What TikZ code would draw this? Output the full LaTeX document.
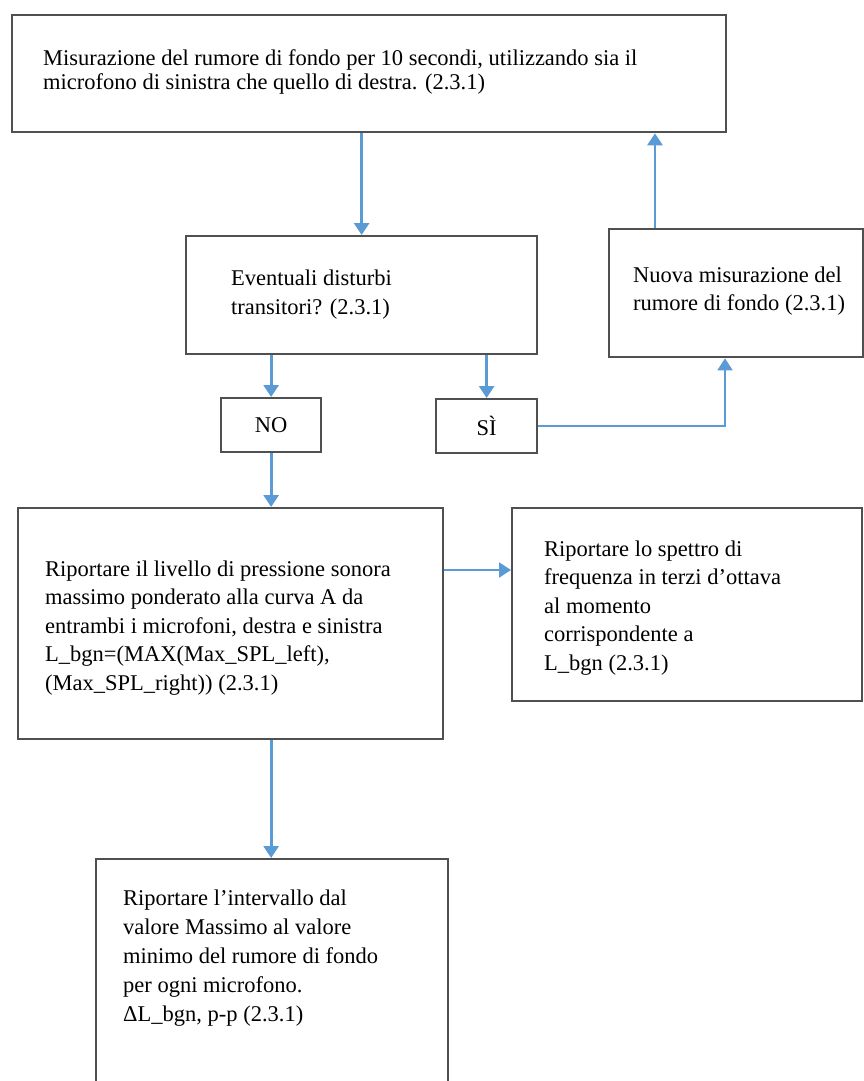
\documentclass[tikz,border=0pt]{standalone}
\usepackage{fontspec}
\setmainfont{Liberation Serif}
\usetikzlibrary{arrows.meta}
\definecolor{arrowblue}{HTML}{5B9BD5}
\definecolor{boxgray}{HTML}{505050}
\tikzset{
  box/.style={draw=boxgray, line width=2.3pt, fill=white, rectangle, inner sep=0pt, anchor=north west},
  txt/.style={inner sep=0pt, anchor=west, align=left, font=\fontsize{22.5}{28.5}\selectfont, text=black},
  flow/.style={draw=arrowblue, line width=2.8pt, -{Triangle[width=15pt,length=12pt]}},
  thinflow/.style={draw=arrowblue, line width=1.8pt, -{Triangle[width=15pt,length=12pt]}}
}
\begin{document}
\begin{tikzpicture}[x=1pt,y=-1pt]
\useasboundingbox (0,0) rectangle (864,1081);
\clip (0,0) rectangle (864,1081);
\fill[white] (0,0) rectangle (864,1081);
% boxes
\node[box, minimum width=714pt, minimum height=117pt] (top) at (11,14) {};
\node[box, minimum width=351pt, minimum height=118pt] (dec) at (185,235) {};
\node[box, minimum width=254pt, minimum height=128pt] (nuova) at (608,228) {};
\node[box, minimum width=100pt, minimum height=54pt] (no) at (220,397) {};
\node[box, minimum width=101pt, minimum height=54pt] (si) at (435,398) {};
\node[box, minimum width=425pt, minimum height=231pt] (big) at (17,507) {};
\node[box, minimum width=350pt, minimum height=193pt] (spec) at (511,507) {};
\node[box, minimum width=352pt, minimum height=260pt] (bot) at (95,858) {};
% texts
\node[txt, font=\fontsize{22.5}{23.5}\selectfont] (toptext) at (43,72) {Misurazione del rumore di fondo per 10 secondi, utilizzando sia il\\microfono di sinistra che quello di destra. (2.3.1)};
\node[txt] (dectext) at (231,294.5) {Eventuali disturbi\\transitori? (2.3.1)};
\node[txt] (nuovatext) at (633,291) {Nuova misurazione del\\rumore di fondo (2.3.1)};
\node[txt, font=\fontsize{22.5}{24}\selectfont, anchor=center] (notext) at (no.center) {NO};
\node[txt, font=\fontsize{22.5}{24}\selectfont, anchor=center] (sitext) at (si.center) {SÌ};
\node[txt] (bigtext) at (45,628) {Riportare il livello di pressione sonora\\massimo ponderato alla curva A da\\entrambi i microfoni, destra e sinistra\\L\_bgn=(MAX(Max\_SPL\_left),\\(Max\_SPL\_right)) (2.3.1)};
\node[txt] (spectext) at (544,608) {Riportare lo spettro di\\frequenza in terzi d’ottava\\al momento\\corrispondente a\\L\_bgn (2.3.1)};
\node[txt, font=\fontsize{22.5}{29}\selectfont] (bottext) at (123,958) {Riportare l’intervallo dal\\valore Massimo al valore\\minimo del rumore di fondo\\per ogni microfono.\\ΔL\_bgn, p-p (2.3.1)};
% connectors
\coordinate (up) at ([xshift=47pt]nuova.north west);
\coordinate (bend) at ([xshift=117pt]nuova.south west);
\draw[flow] (dec.north |- top.south) -- (dec.north);
\draw[flow] (up) -- (up |- top.south);
\draw[flow] (no.north |- dec.south) -- (no.north);
\draw[flow] (si.north |- dec.south) -- (si.north);
\draw[thinflow] (si.east) -| (bend);
\draw[flow] (no.south) -- (no.south |- big.north);
\coordinate (bigr) at ([yshift=-63pt]big.north east);
\draw[flow, line width=2.2pt] (bigr) -- (bigr -| spec.west);
\draw[flow] (no.south |- big.south) -- (no.south |- bot.north);
\end{tikzpicture}
\end{document}
